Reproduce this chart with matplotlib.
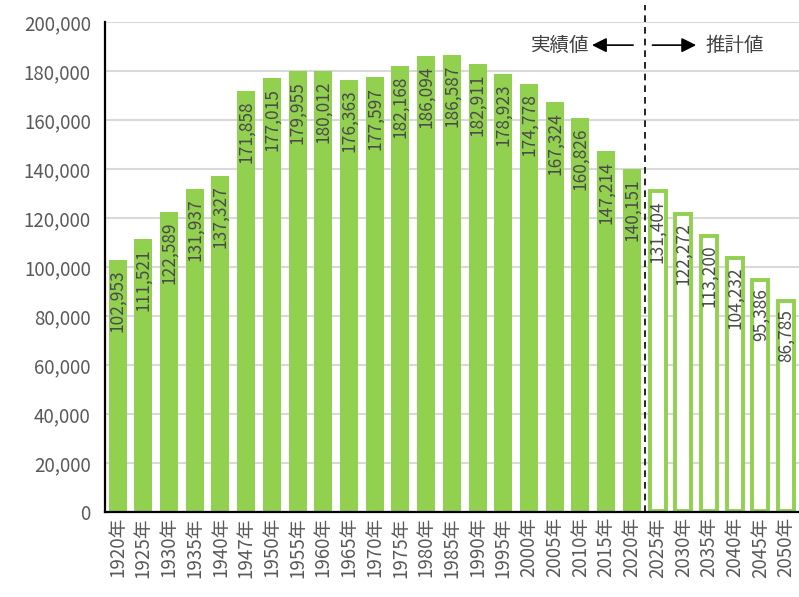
import matplotlib
matplotlib.use("Agg")
import matplotlib.pyplot as plt

plt.rcParams["font.family"] = ["Noto Sans CJK JP", "DejaVu Sans"]

years = ["1920", "1925", "1930", "1935", "1940", "1947", "1950", "1955", "1960",
         "1965", "1970", "1975", "1980", "1985", "1990", "1995", "2000", "2005",
         "2010", "2015", "2020", "2025", "2030", "2035", "2040", "2045", "2050"]
actual = [102953, 111521, 122589, 131937, 137327, 171858, 177015, 179955, 180012,
          176363, 177597, 182168, 186094, 186587, 182911, 178923, 174778, 167324,
          160826, 147214, 140151]
projected = [131404, 122272, 113200, 104232, 95386, 86785]

GREEN = "#92d050"
GRAY = "#595959"

fig = plt.figure(figsize=(7.99, 5.97), dpi=100)
ax = fig.add_axes([0.131, 0.142, 0.869, 0.821])

n_act = len(actual)
x_act = list(range(n_act))
x_proj = list(range(n_act, n_act + len(projected)))

ax.bar(x_act, actual, width=0.7, color=GREEN, zorder=3)
ax.bar(x_proj, [v - 900 for v in projected], bottom=450, width=0.62,
       facecolor="white", edgecolor=GREEN, linewidth=2.8, zorder=3)

for xi, v in zip(x_act + x_proj, actual + projected):
    ax.annotate(f"{v:,}", (xi, v), xytext=(0, -7), textcoords="offset points",
                rotation=90, ha="center", va="top", fontsize=12.5, color="#4a4a4a",
                zorder=4)

ax.set_xlim(-0.5, len(years) - 0.5)
ax.set_ylim(0, 200000)
ax.set_yticks(range(0, 200001, 20000))
ax.set_yticklabels([f"{v:,}" for v in range(0, 200001, 20000)], fontsize=13.5,
                   color=GRAY)
ax.set_xticks(range(len(years)))
ax.set_xticklabels([f"{y}年" for y in years], rotation=90, fontsize=13.5,
                   color=GRAY)
ax.tick_params(length=0)
ax.tick_params(axis="y", pad=10)

ax.grid(axis="y", color="#d9d9d9", linewidth=1.5, zorder=0)
for s in ["top", "right"]:
    ax.spines[s].set_visible(False)
for s in ["left", "bottom"]:
    ax.spines[s].set_linewidth(1.6)
    ax.spines[s].set_zorder(5)

# divider between actual and projected
ax.plot([n_act - 0.5, n_act - 0.5], [0, 1.035], color="black", linestyle=(0, (4, 3)),
        linewidth=1.2, transform=ax.get_xaxis_transform(), clip_on=False, zorder=5)

y_lab = 190600
ax.annotate("", xy=(18.45, y_lab), xytext=(20.05, y_lab),
            arrowprops=dict(arrowstyle="-|>", color="black", lw=1.2,
                            mutation_scale=22, shrinkA=0, shrinkB=0))
ax.text(18.35, y_lab, "実績値", ha="right", va="center", fontsize=14, color="#404040")
ax.annotate("", xy=(22.5, y_lab), xytext=(20.8, y_lab),
            arrowprops=dict(arrowstyle="-|>", color="black", lw=1.2,
                            mutation_scale=22, shrinkA=0, shrinkB=0))
ax.text(22.88, y_lab, "推計値", ha="left", va="center", fontsize=14, color="#404040")

fig.savefig("out.png", dpi=100)
